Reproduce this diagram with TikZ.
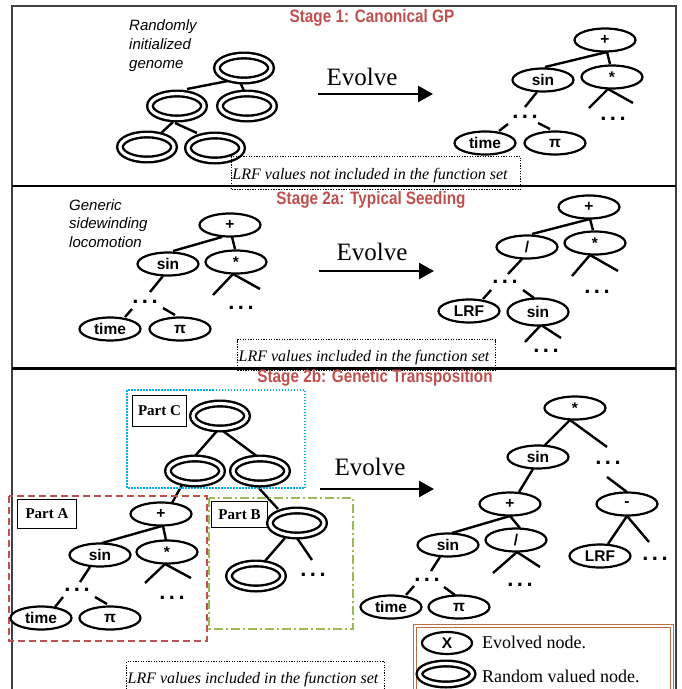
\documentclass[tikz,border=0pt]{standalone}
\usepackage{fontspec}
\setmainfont{Liberation Serif}
\newfontfamily\gpsans{Liberation Sans}
\newfontfamily\gptitle{Liberation Sans}[FakeStretch=0.85]
\usetikzlibrary{shapes.geometric,arrows.meta,calc,backgrounds}
\definecolor{stagered}{RGB}{192,80,77}
\definecolor{partcyan}{RGB}{0,176,240}
\definecolor{partgreen}{RGB}{155,187,89}
\definecolor{legbrown}{RGB}{183,112,66}
\newcommand\gpdots{.\hspace{3.5pt}.\hspace{3.5pt}.}
\begin{document}
\begin{tikzpicture}[x=1pt,y=-1pt,
 ev/.style={ellipse, draw, line width=2.2pt, fill=white, minimum width=61pt, minimum height=23pt, inner sep=0pt, font=\gpsans\bfseries\fontsize{15.5}{15.5}\selectfont},
 rv/.style={ellipse, draw, line width=2.4pt, double=white, double distance=3.2pt, fill=white, minimum width=54pt, minimum height=25pt, inner sep=0pt},
 dotsn/.style={inner sep=0pt, font=\gpsans\bfseries\fontsize{22}{22}\selectfont},
 ed/.style={line width=2.4pt},
 stitle/.style={font=\gptitle\bfseries\fontsize{18}{18}\selectfont, text=stagered, inner sep=0pt},
 note/.style={font=\gpsans\itshape\fontsize{15}{19}\selectfont, align=left, inner sep=0pt, anchor=north west},
 evo/.style={font=\fontsize{25}{25}\selectfont, inner sep=0pt},
 evarrow/.style={line width=2.6pt, -{Triangle[length=15pt,width=16pt]}},
 lrfbox/.style={draw, line width=1.3pt, dash pattern=on 1.3pt off 1.3pt, inner sep=0pt, anchor=north west},
 lrftext/.style={font=\itshape\fontsize{16}{16}\selectfont, inner sep=0pt},
 partlabel/.style={draw, line width=1pt, fill=white, font=\bfseries\fontsize{15}{15}\selectfont, inner sep=0pt, anchor=north west},
 legtext/.style={font=\fontsize{18}{18}\selectfont, anchor=west, inner sep=0pt}
]
\clip (0,0) rectangle (681,689);
% frame and dividers
\draw[line width=1.8pt, black!75] (12,6) rectangle (676,700);

% ================= Stage 1 =================
\node[stitle] (t1) at (372,18) {Stage 1: Canonical GP};
\node[note] (n1) at (129,19) {Randomly\\initialized\\genome};
\node[rv] (R1) at (244,68) {};
\node[rv] (R2) at (177,106) {};
\node[rv] (R3) at (247,106) {};
\node[rv] (R4) at (147,147) {};
\node[rv] (R5) at (215,148) {};
\node[evo] (e1) at (362,77) {Evolve};
\coordinate (a1s) at (318,94);
\coordinate (a1e) at (433,94);
\draw[evarrow] (a1s) -- (a1e);
\node[ev] (P1) at (605,40) {+};
\node[ev] (S1) at (543,80) {sin};
\node[ev] (M1) at (612,77) {*};
\node[ev] (T1) at (485,143) {time};
\node[ev] (Pi1) at (555,143) {π};
\node[dotsn] (D1) at (525,117) {\gpdots};
\node[dotsn] (D2) at (613,119) {\gpdots};
\node[lrfbox, minimum width=289pt, minimum height=33pt] (bx1) at (231,156) {};
\node[lrftext] (bt1) at (370,176) {LRF values not included in the function set};
\draw[line width=2.2pt] (12,186) -- (676,186);

% ================= Stage 2a =================
\node[stitle] (t2) at (371,200) {Stage 2a: Typical Seeding};
\node[note, font=\gpsans\itshape\fontsize{15}{18.5}\selectfont] (n2) at (69,199) {Generic\\sidewinding\\locomotion};
\node[ev] (P2) at (230,225) {+};
\node[ev] (S2) at (168,264) {sin};
\node[ev] (M2) at (236,262) {*};
\node[ev] (T2) at (110,329) {time};
\node[ev] (Pi2) at (180,329) {π};
\node[dotsn] (D3) at (145,302) {\gpdots};
\node[dotsn] (D4) at (241,308) {\gpdots};
\node[evo] (e2) at (372,252) {Evolve};
\coordinate (a2s) at (319,271);
\coordinate (a2e) at (434,271);
\draw[evarrow] (a2s) -- (a2e);
\node[ev] (P3) at (589,207) {+};
\node[ev] (Q3) at (527,247) {/};
\node[ev] (M3) at (595,243) {*};
\node[ev] (L3) at (469,311) {LRF};
\node[ev, minimum height=27pt] (S3) at (538,312) {sin};
\node[dotsn] (D5) at (505,282) {\gpdots};
\node[dotsn] (D6) at (597,292) {\gpdots};
\node[dotsn] (D7) at (546,351) {\gpdots};
\node[lrfbox, minimum width=258pt, minimum height=31pt] (bx2) at (237,339) {};
\node[lrftext] (bt2) at (364,358) {LRF values included in the function set};
\draw[line width=2.2pt] (12,368.5) -- (676,368.5);

% ================= Stage 2b =================
\node[stitle] (t3) at (375,378) {Stage 2b: Genetic Transposition};
\draw[partcyan, line width=1.5pt, dash pattern=on 1.5pt off 1.5pt] (127,390) rectangle (305,488);
\draw[stagered, line width=1.5pt, dash pattern=on 7pt off 4pt] (9,496) rectangle (207,641);
\draw[partgreen, line width=1.5pt, dash pattern=on 9pt off 3pt on 2pt off 3pt] (209,498) rectangle (353,629);
\node[partlabel, minimum width=54pt, minimum height=31pt] (pc) at (132,395) {Part C};
\node[partlabel, minimum width=59pt, minimum height=29pt] (pa) at (17,499) {Part A};
\node[partlabel, minimum width=56pt, minimum height=26pt] (pb) at (211,501) {Part B};
\node[rv] (C1) at (220,416) {};
\node[rv] (C2) at (195,471) {};
\node[rv] (C3) at (260,471) {};
\node[ev] (PA) at (161,514) {+};
\node[ev] (SA) at (100,555) {sin};
\node[ev] (MA) at (167,552) {*};
\node[ev] (TA) at (41,618) {time};
\node[ev] (PiA) at (110,618) {π};
\node[dotsn] (DA1) at (77,590) {\gpdots};
\node[dotsn] (DA2) at (172,598) {\gpdots};
\node[rv] (B1) at (297,523) {};
\node[rv] (B2) at (256,576) {};
\node[dotsn] (DB) at (313,575) {\gpdots};
\node[evo] (e3) at (370,467) {Evolve};
\coordinate (a3s) at (320,489);
\coordinate (a3e) at (434,489);
\draw[evarrow] (a3s) -- (a3e);
\node[ev] (X1) at (575,408) {*};
\node[ev] (X2) at (538,457) {sin};
\node[ev] (X3) at (510,504) {+};
\node[ev] (X4) at (627,504) {-};
\node[ev] (X5) at (448,545) {sin};
\node[ev] (X6) at (516,540) {/};
\node[ev] (X7) at (391,607) {time};
\node[ev] (X8) at (459,607) {π};
\node[ev] (X9) at (600,556) {LRF};
\node[dotsn] (DX1) at (608,463) {\gpdots};
\node[dotsn] (DX2) at (427,580) {\gpdots};
\node[dotsn] (DX3) at (520,585) {\gpdots};
\node[dotsn] (DX4) at (655,559) {\gpdots};
\node[lrfbox, minimum width=258pt, minimum height=40pt] (bx3) at (126,661) {};
\node[lrftext] (bt3) at (253,680) {LRF values included in the function set};
% legend
\draw[legbrown, line width=0.9pt, double=white, double distance=1.3pt] (415,626) rectangle (672,700);
\node[ev, minimum width=50pt, minimum height=22pt] (LX) at (447,643) {X};
\node[rv, minimum width=53pt, minimum height=21pt] (LR) at (446,674) {};
\node[legtext] (lt1) at (482,642) {Evolved node.};
\node[legtext] (lt2) at (482,676) {Random valued node.};

% ================= edges =================
\begin{pgfonlayer}{background}
\fill[white] (0,0) rectangle (681,689);
% stage 1 left
\draw[ed] ($(R1)+(-11,12)$) -- ($(R2)+(10,-17)$);
\draw[ed] ($(R1)+(-4,14)$) -- ($(R3)+(-2,-13)$);
\draw[ed] ($(R2)+(-4,16)$) -- ($(R4)+(11,-11)$);
\draw[ed] ($(R2)+(-2,17)$) -- ($(R5)+(-18,-15)$);
% stage 1 right
\draw[ed] ($(P1)+(2,12)$) -- ($(S1)+(2,-13)$);
\draw[ed] ($(P1)+(2,12)$) -- ($(M1)+(-2,-13)$);
\draw[ed] ($(S1)+(-6,12)$) -- ($(D1)+(0,-10)$);
\draw[ed] ($(M1)+(-4,12)$) -- ($(M1)+(-23,31)$);
\draw[ed] ($(M1)+(-4,12)$) -- ($(M1)+(21,26)$);
\draw[ed] ($(D1)+(-17,7)$) -- ($(T1)+(14,-12)$);
\draw[ed] ($(D1)+(13,6)$) -- ($(Pi1)+(-5,-14)$);
% stage 2a left
\draw[ed] ($(P2)+(-8,12)$) -- ($(S2)+(5,-13)$);
\draw[ed] ($(P2)+(2,12)$) -- ($(M2)+(-1,-13)$);
\draw[ed] ($(S2)+(-5,12)$) -- ($(D3)+(5,-10)$);
\draw[ed] ($(M2)+(-3,12)$) -- ($(M2)+(-23,33)$);
\draw[ed] ($(M2)+(-3,12)$) -- ($(M2)+(24,27)$);
\draw[ed] ($(D3)+(-13,7)$) -- ($(T2)+(15,-12)$);
\draw[ed] ($(D3)+(18,6)$) -- ($(Pi2)+(-5,-14)$);
% stage 2a right
\draw[ed] ($(P3)+(1,12)$) -- ($(Q3)+(5,-13)$);
\draw[ed] ($(P3)+(1,12)$) -- ($(M3)+(-2,-13)$);
\draw[ed] ($(Q3)+(-5,12)$) -- ($(D5)+(3,-8)$);
\draw[ed] ($(M3)+(-5,12)$) -- ($(M3)+(-23,33)$);
\draw[ed] ($(M3)+(-5,12)$) -- ($(M3)+(23,28)$);
\draw[ed] ($(D5)+(-14,8)$) -- ($(L3)+(14,-12)$);
\draw[ed] ($(D5)+(18,8)$) -- ($(S3)+(-4,-14)$);
\draw[ed] ($(S3)+(3,13)$) -- ($(S3)+(-13,30)$);
\draw[ed] ($(S3)+(3,13)$) -- ($(S3)+(23,26)$);
% stage 2b part C / A / B
\draw[ed] ($(C1)+(-3,15)$) -- ($(C2)+(0,-15)$);
\draw[ed] ($(C1)+(3,15)$) -- ($(C3)+(-2,-14)$);
\draw[ed] ($(C2)+(-13,14)$) -- ($(PA)+(11,-11)$);
\draw[ed] ($(PA)+(1,12)$) -- ($(SA)+(2,-12)$);
\draw[ed] ($(PA)+(2,12)$) -- ($(MA)+(-1,-12)$);
\draw[ed] ($(SA)+(-10,12)$) -- ($(DA1)+(3,-8)$);
\draw[ed] ($(MA)+(-2,12)$) -- ($(MA)+(-22,31)$);
\draw[ed] ($(MA)+(-2,12)$) -- ($(MA)+(24,26)$);
\draw[ed] ($(DA1)+(-14,7)$) -- ($(TA)+(14,-11)$);
\draw[ed] ($(DA1)+(18,7)$) -- ($(PiA)+(-3,-14)$);
\draw[ed] ($(C3)+(-3,15)$) -- ($(B1)+(-19,-14)$);
\draw[ed] ($(B1)+(-12,15)$) -- ($(B2)+(9,-15)$);
\draw[ed] ($(B1)+(0,15)$) -- ($(B1)+(15,37)$);
% stage 2b right
\draw[ed] ($(X1)+(-5,12)$) -- ($(X2)+(7,-12)$);
\draw[ed] ($(X1)+(-5,12)$) -- ($(DX1)+(-1,-16)$);
\draw[ed] ($(X2)+(-5,12)$) -- ($(X3)+(9,-12)$);
\draw[ed] ($(DX1)+(-1,14)$) -- ($(X4)+(0,-12)$);
\draw[ed] ($(X3)+(0,12)$) -- ($(X5)+(4,-12)$);
\draw[ed] ($(X3)+(0,12)$) -- ($(X6)+(4,-12)$);
\draw[ed] ($(X4)+(0,12)$) -- ($(X9)+(8,-12)$);
\draw[ed] ($(X4)+(0,12)$) -- ($(X4)+(22,38)$);
\draw[ed] ($(X5)+(-8,12)$) -- ($(DX2)+(4,-9)$);
\draw[ed] ($(X6)+(1,12)$) -- ($(X6)+(-23,33)$);
\draw[ed] ($(X6)+(1,12)$) -- ($(X6)+(24,27)$);
\draw[ed] ($(DX2)+(-13,6)$) -- ($(X7)+(15,-12)$);
\draw[ed] ($(DX2)+(17,7)$) -- ($(X8)+(-4,-12)$);
\end{pgfonlayer}
\end{tikzpicture}
\end{document}
